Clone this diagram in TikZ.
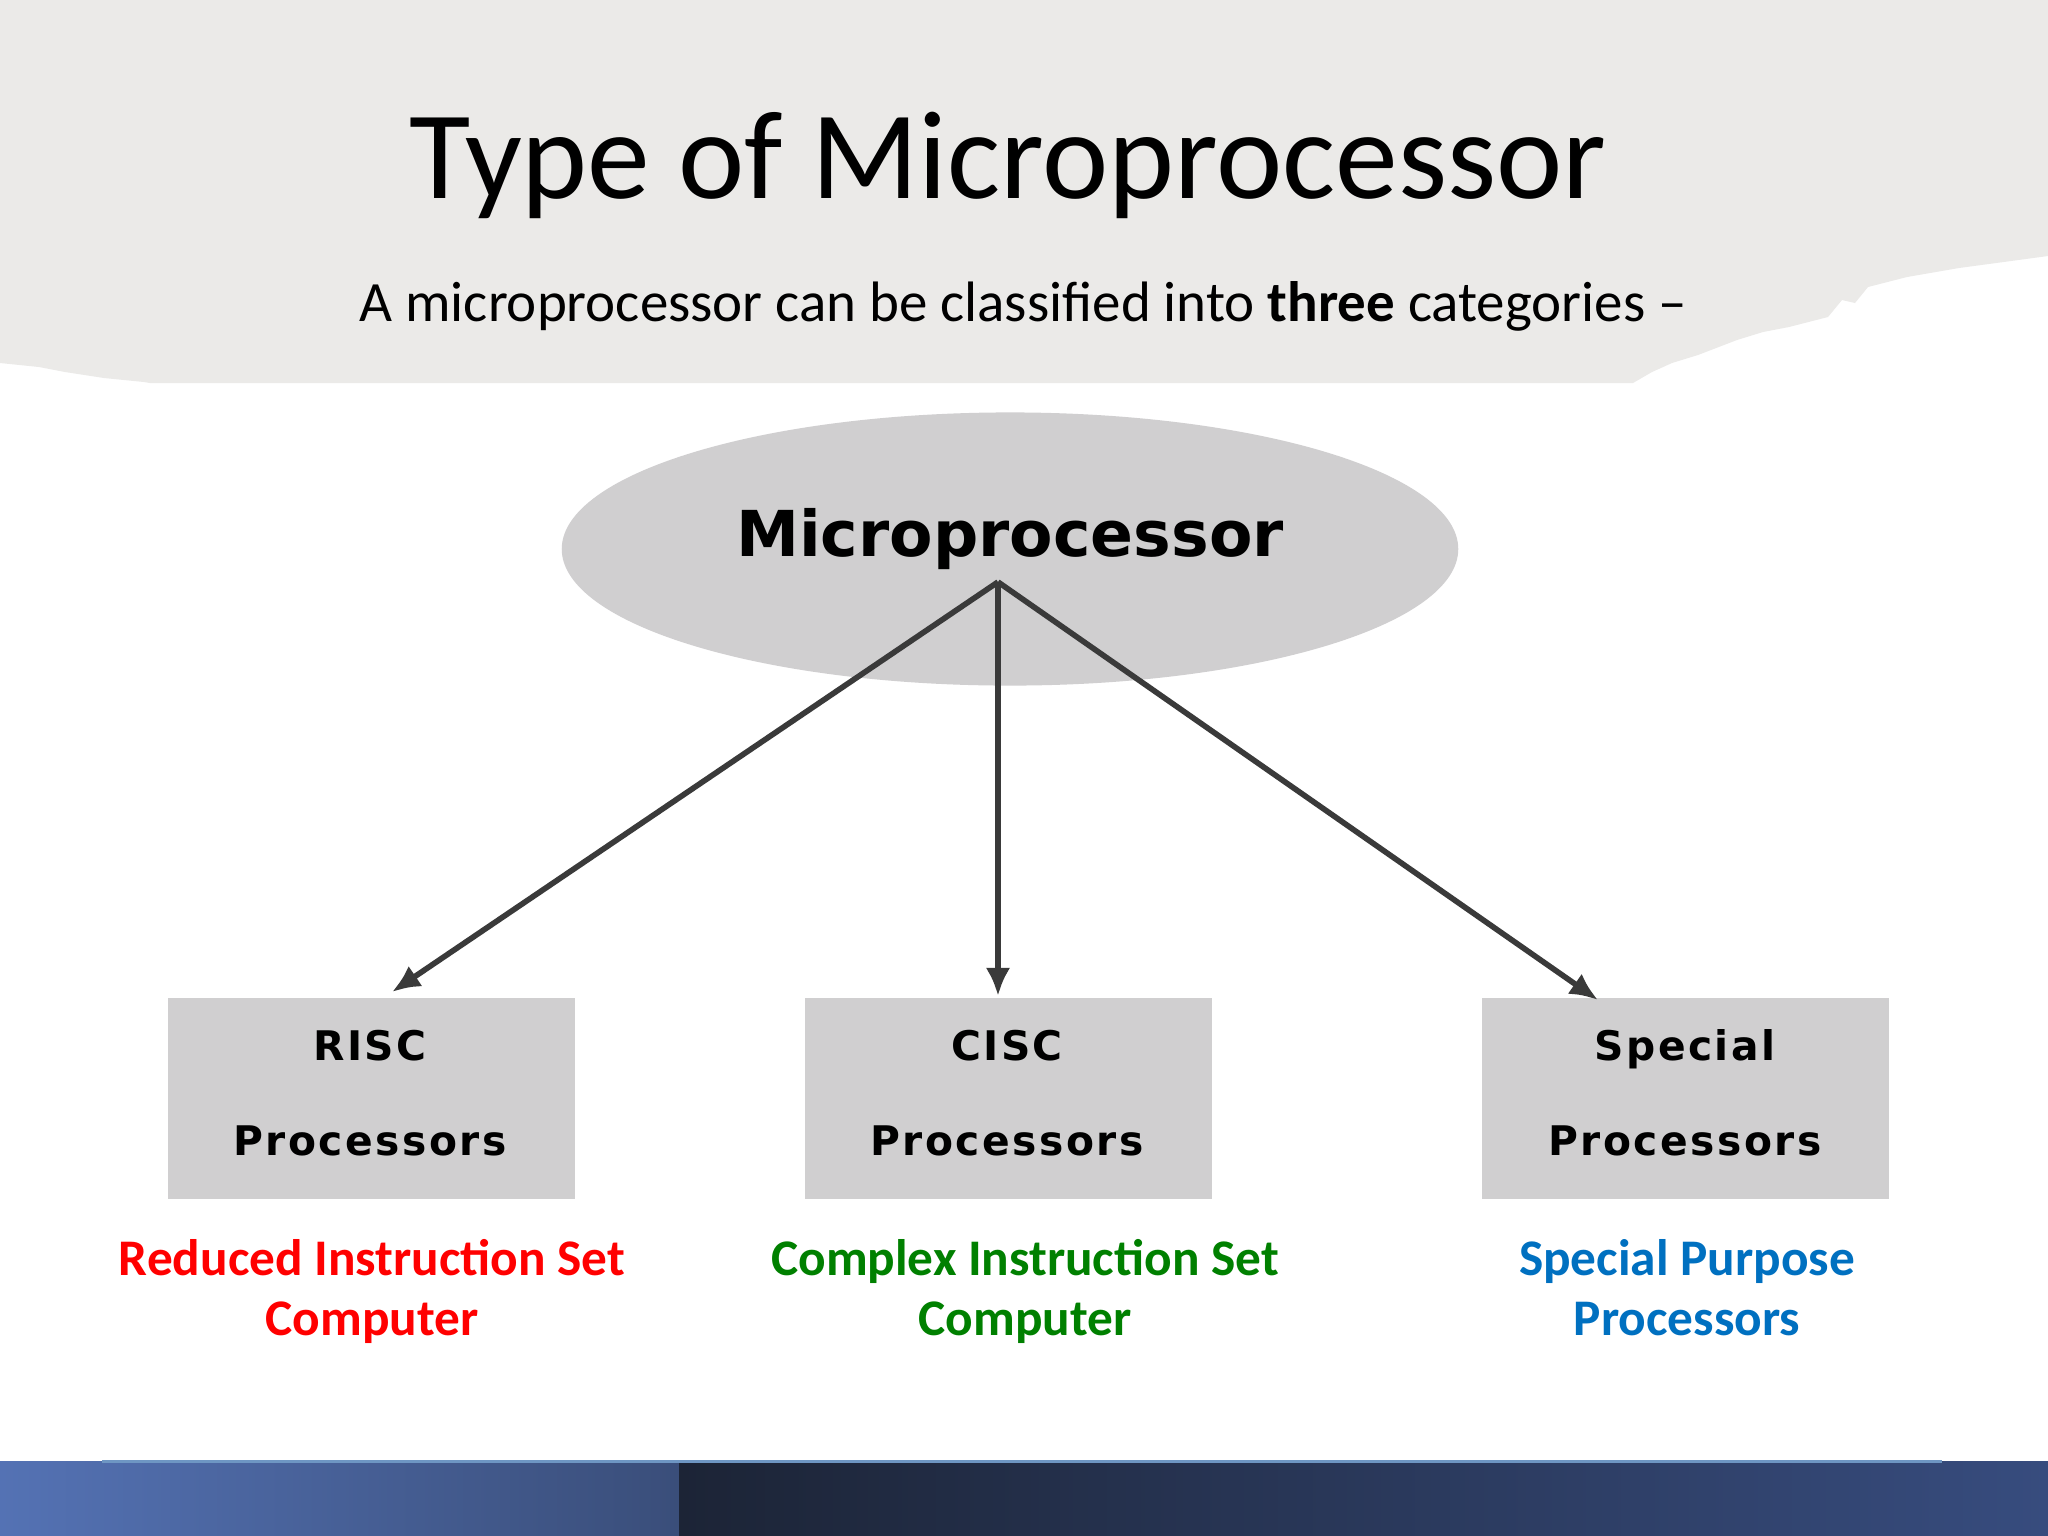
\documentclass[tikz,border=0pt]{standalone}
\usepackage{fontspec}
\setmainfont{Carlito}
\newfontfamily\dvfont{DejaVu Sans}
\newfontfamily\boxfont[LetterSpace=6]{DejaVu Sans}
\usetikzlibrary{arrows.meta,shapes.geometric}
\definecolor{bandgray}{RGB}{235,234,232}
\definecolor{shapegray}{RGB}{208,207,208}
\definecolor{linegray}{RGB}{58,58,58}
\definecolor{lblred}{RGB}{255,0,0}
\definecolor{lblgreen}{RGB}{0,128,0}
\definecolor{lblblue}{RGB}{0,112,192}
\definecolor{bandA}{RGB}{84,114,180}
\definecolor{bandB}{RGB}{58,78,122}
\definecolor{bandC}{RGB}{28,36,54}
\definecolor{bandD}{RGB}{55,76,126}
\definecolor{bandline}{RGB}{110,150,195}
\tikzset{
  procbox/.style={rectangle, fill=shapegray, minimum width=4.07cm, minimum height=2.01cm, inner sep=0pt},
  boxtxt/.style={anchor=base, inner sep=0pt, font=\boxfont\bfseries\fontsize{11.6pt}{13pt}\selectfont, text=black},
  lbl/.style={anchor=base, inner sep=0pt, font=\bfseries\fontsize{14.6pt}{17pt}\selectfont},
  conn/.style={draw=linegray, line width=1.6pt, -{Latex[length=8pt,width=7pt]}},
}
\begin{document}
\begin{tikzpicture}[x=0.01cm,y=-0.01cm]
\useasboundingbox (0,0) rectangle (2048,1536);
\fill[white] (0,0) rectangle (2048,1536);
% torn title band
\fill[bandgray] (0,0) -- (2048,0) -- (2048,256) -- (2011,261) -- (1959,268) -- (1907,277) -- (1868,287) -- (1855,303) -- (1842,300) -- (1828,317) -- (1789,327) -- (1763,332) -- (1737,340) -- (1698,355) -- (1672,363) -- (1652,372) -- (1633,383) -- (150,383) -- (144,382) -- (104,378) -- (65,372) -- (39,367) -- (0,363) -- cycle;
\node (title) [anchor=base, inner sep=0pt, font=\fontsize{35.7pt}{40pt}\selectfont, text=black] at (1008,198) {Type of Microprocessor};
\node (subtitle) [anchor=base, inner sep=0pt, font=\fontsize{16.2pt}{20pt}\selectfont, text=black] at (1023,321) {A microprocessor can be classified into \textbf{three} categories –};
% root ellipse
\node (mp) [ellipse, fill=shapegray, minimum width=8.96cm, minimum height=2.73cm, inner sep=0pt] at (1010,549) {};
\node (mptext) [anchor=base, inner sep=0pt, font=\dvfont\bfseries\fontsize{18pt}{20pt}\selectfont, text=black] at (1010,556) {Microprocessor};
% boxes
\node (risc) [procbox] at (371.5,1098.5) {};
\node (cisc) [procbox] at (1008.5,1098.5) {};
\node (spec) [procbox] at (1685.5,1098.5) {};
\node (risc1) [boxtxt] at (370,1060) {RISC};
\node (risc2) [boxtxt] at (370,1155) {Processors};
\node (cisc1) [boxtxt] at (1007,1060) {CISC};
\node (cisc2) [boxtxt] at (1007,1155) {Processors};
\node (spec1) [boxtxt] at (1685,1060) {Special};
\node (spec2) [boxtxt] at (1685,1155) {Processors};
% connectors
\coordinate (apex) at (998,582);
\coordinate (tipR) at (392,992);
\coordinate (tipC) at (998,996);
\coordinate (tipS) at (1598,1000);
\draw[conn] (apex) -- (tipR);
\draw[conn] (apex) -- (tipC);
\draw[conn] (apex) -- (tipS);
% coloured captions
\node (rl1) [lbl, text=lblred] at (372,1275) {Reduced Instruction Set};
\node (rl2) [lbl, text=lblred] at (372,1335) {Computer};
\node (cl1) [lbl, text=lblgreen] at (1025,1275) {Complex Instruction Set};
\node (cl2) [lbl, text=lblgreen] at (1025,1335) {Computer};
\node (sl1) [lbl, text=lblblue] at (1687,1275) {Special Purpose};
\node (sl2) [lbl, text=lblblue] at (1687,1335) {Processors};
% bottom band
\shade[left color=bandA, right color=bandB] (0,1461) rectangle (679,1536);
\shade[left color=bandC, right color=bandD] (679,1461) rectangle (2048,1536);
\fill[bandline] (102,1460) rectangle (1942,1462.5);
\end{tikzpicture}
\end{document}
